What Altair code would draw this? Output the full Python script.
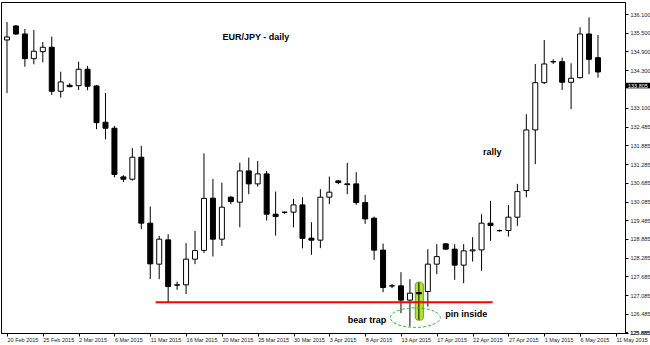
import altair as alt
import pandas as pd

# ---- data (EUR/JPY daily candles) ----
date_labels = ["20 Feb 2015", "25 Feb 2015", "2 Mar 2015", "6 Mar 2015", "11 Mar 2015",
               "16 Mar 2015", "20 Mar 2015", "25 Mar 2015", "30 Mar 2015", "3 Apr 2015",
               "8 Apr 2015", "13 Apr 2015", "17 Apr 2015", "22 Apr 2015", "27 Apr 2015",
               "1 May 2015", "6 May 2015", "11 May 2015"]

opens = [135.267, 135.716, 135.459, 134.668, 134.892, 135.033, 133.623, 133.815, 133.802, 134.328,
         133.793, 132.629, 132.437, 130.876, 130.802, 131.507, 129.392, 128.078, 128.857, 127.414,
         127.414, 128.238, 128.520, 130.193, 128.879, 130.225, 130.065, 131.068, 130.652, 130.972,
         129.680, 129.745, 129.745, 129.978, 128.911, 128.847, 130.225, 130.748, 130.652, 130.652,
         130.052, 129.552, 128.527, 127.382, 127.382, 126.924, 127.168, 127.200, 128.078, 128.729,
         128.559, 128.046, 128.504, 128.536, 129.392, 129.155, 129.155, 129.584, 130.437, 132.382,
         133.898, 134.571, 134.571, 133.911, 134.059, 135.459, 134.700]
highs = [135.844, 135.748, 135.620, 135.587, 135.203, 135.373, 134.251, 133.879, 134.571, 134.434,
         133.825, 133.568, 132.511, 130.930, 131.796, 131.869, 129.924, 128.985, 129.039, 127.520,
         128.751, 129.145, 131.629, 130.812, 130.693, 130.267, 131.334, 131.494, 131.389, 131.068,
         130.405, 129.764, 130.171, 130.225, 129.424, 130.482, 130.886, 130.780, 131.325, 131.027,
         130.299, 129.603, 128.738, 127.446, 127.821, 127.597, 127.488, 128.558, 128.719, 128.751,
         128.719, 128.719, 128.943, 129.680, 130.107, 129.187, 129.978, 130.652, 132.886, 134.498,
         135.267, 134.648, 134.700, 134.520, 135.674, 135.994, 135.427]
lows = [133.568, 135.427, 134.411, 134.488, 134.552, 133.504, 133.418, 133.751, 133.664, 133.655,
        132.405, 132.078, 130.866, 130.706, 130.757, 129.200, 127.597, 127.597, 126.860, 127.254,
        127.117, 128.078, 128.431, 128.322, 128.664, 130.001, 129.264, 130.321, 130.565, 129.475,
        128.995, 129.690, 129.264, 128.584, 128.376, 128.591, 130.001, 130.642, 130.321, 129.978,
        129.370, 128.216, 127.180, 127.308, 126.507, 126.078, 126.293, 126.719, 127.757, 128.536,
        127.575, 127.469, 128.161, 127.863, 128.825, 129.123, 128.962, 129.306, 130.225, 131.283,
        133.857, 134.498, 133.664, 133.055, 134.030, 134.168, 134.059]
closes = [135.363, 135.459, 134.668, 134.905, 135.033, 133.623, 133.921, 133.770, 134.328, 133.783,
          132.616, 132.437, 130.956, 130.802, 131.507, 129.392, 128.087, 128.879, 127.360, 127.405,
          128.238, 128.514, 130.187, 128.879, 129.905, 130.084, 131.068, 130.652, 130.972, 129.680,
          129.604, 129.740, 129.978, 128.905, 128.847, 130.225, 130.386, 130.693, 130.629, 130.052,
          129.530, 128.527, 127.328, 127.378, 126.924, 127.148, 127.126, 128.078, 128.321, 128.559,
          128.046, 128.504, 128.536, 129.392, 129.315, 129.150, 129.584, 130.405, 132.382, 133.898,
          134.498, 134.565, 133.911, 134.039, 135.459, 134.648, 134.241]

price_ticks = [125.885, 126.485, 127.085, 127.685, 128.285, 128.885, 129.485, 130.085, 130.685,
               131.285, 131.885, 132.485, 133.100, 134.300, 134.900, 135.500, 136.100]
current_price = [133.805]

title_text = ["EUR/JPY - daily"]
title_pos = [[27.8, 135.36]]
notes = ["rally", "bear trap", "pin inside"]
notes_pos = [[54.2, 131.68], [40.2, 126.28], [51.3, 126.47]]

support_level = [126.854]
support_span = [[16.6, 54.24]]
pin_box = [[45.6, 46.5, 126.28, 127.50]]
ellipse_center = [[45.6, 126.363]]

# ---- tables ----
n = len(opens)
df = pd.DataFrame({"i": list(range(n)), "open": opens, "high": highs, "low": lows, "close": closes})
df["fill"] = ["white" if c >= o else "black" for o, c in zip(opens, closes)]

xscale = alt.Scale(domain=[-0.11, 68.46], nice=False, zero=False)
yscale = alt.Scale(domain=[125.87, 136.485], nice=False, zero=False)

label_arr = "[" + ",".join("'" + s + "'" for s in date_labels) + "]"
xaxis = alt.Axis(values=list(range(0, 4 * len(date_labels), 4)),
                 labelExpr=label_arr + "[round(datum.value/4)]",
                 title=None, grid=False, tickSize=3, labelAlign="left", labelPadding=1,
                 labelFontSize=5.5, labelFont="Liberation Sans", labelColor="#222222",
                 domainColor="black", tickColor="black", labelOverlap=False, labelFlush=False)
yaxis = alt.Axis(orient="right", values=price_ticks, format=".3f", title=None, grid=False,
                 tickSize=3, labelPadding=2, labelFontSize=5.5, labelFont="Liberation Sans",
                 labelColor="#222222", domainColor="black", tickColor="black",
                 labelOverlap=False, labelFlush=False, labelBound=False)


def X(field):
    return alt.X(field, scale=xscale, axis=xaxis)


def Y(field):
    return alt.Y(field, scale=yscale, axis=yaxis)


# highlight box around the pin bar
pb = pd.DataFrame({"x": [b[0] for b in pin_box], "x2": [b[1] for b in pin_box],
                   "y": [b[2] for b in pin_box], "y2": [b[3] for b in pin_box]})
pin_rect = alt.Chart(pb).mark_rect(fill="#aedc1f", stroke="#4f9a1a", strokeWidth=1,
                                   cornerRadius=3, opacity=0.9).encode(
    x=X("x:Q"), x2="x2:Q", y=Y("y:Q"), y2="y2:Q")

wicks = alt.Chart(df).mark_rule(color="black", strokeWidth=1).encode(
    x=X("i:Q"), y=Y("low:Q"), y2="high:Q")

bodies = alt.Chart(df).mark_bar(size=5, stroke="black", strokeWidth=1).encode(
    x=X("i:Q"), y=Y("open:Q"), y2="close:Q",
    fill=alt.Fill("fill:N", scale=None))

sl = pd.DataFrame({"x": [s[0] for s in support_span], "x2": [s[1] for s in support_span],
                   "y": support_level})
support = alt.Chart(sl).mark_rule(color="#ff0000", strokeWidth=2).encode(
    x=X("x:Q"), x2="x2:Q", y=Y("y:Q"))

el = pd.DataFrame({"x": [e[0] for e in ellipse_center], "y": [e[1] for e in ellipse_center]})
ellipse = alt.Chart(el).mark_point(
    shape="M -1 0 A 1 0.39 0 1 1 1 0 A 1 0.39 0 1 1 -1 0 Z",
    size=2500, filled=False, stroke="#33bb33", strokeWidth=1, strokeDash=[3, 2], opacity=1).encode(
    x=X("x:Q"), y=Y("y:Q"))

tdf = pd.DataFrame({"t": title_text + notes,
                    "x": [p[0] for p in title_pos + notes_pos],
                    "y": [p[1] for p in title_pos + notes_pos]})
texts = alt.Chart(tdf).mark_text(font="Liberation Sans", fontWeight="bold", fontSize=9,
                                  color="black", align="center", baseline="middle").encode(
    x=X("x:Q"), y=Y("y:Q"), text="t:N")

cp = pd.DataFrame({"p": current_price})
price_box = alt.Chart(cp).transform_calculate(lo="datum.p - 0.09", hi="datum.p + 0.09").mark_rect(
    color="black").encode(
    x=alt.value(624), x2=alt.value(649), y=Y("lo:Q"), y2="hi:Q")
price_text = alt.Chart(cp).mark_text(font="Liberation Sans", fontSize=5.5, color="white",
                                     align="left", baseline="middle").encode(
    x=alt.value(627), y=Y("p:Q"), text=alt.Text("p:Q", format=".3f"))

# lowest price label (drawn explicitly so it always shows at the bottom edge)
bottom_tick = pd.DataFrame({"p": [min(price_ticks)]})
bt_rule = alt.Chart(bottom_tick).mark_rule(color="black", strokeWidth=1).encode(
    x=alt.value(624), x2=alt.value(627), y=Y("p:Q"))
bt_text = alt.Chart(bottom_tick).mark_text(font="Liberation Sans", fontSize=5.5, color="#222222",
                                           align="left", baseline="middle").encode(
    x=alt.value(629), y=Y("p:Q"), text=alt.Text("p:Q", format=".3f"))

chart = alt.layer(pin_rect, wicks, bodies, support, ellipse, texts, price_box, price_text,
                  bt_rule, bt_text).properties(
    width=624, height=331,
    padding={"left": 1, "top": 2, "right": 25, "bottom": 12},
    autosize=alt.AutoSizeParams(type="none"),
    background="white",
).configure_view(stroke="black", strokeWidth=1)

chart.save("out.html", embed_options={"renderer": "svg", "actions": False})
